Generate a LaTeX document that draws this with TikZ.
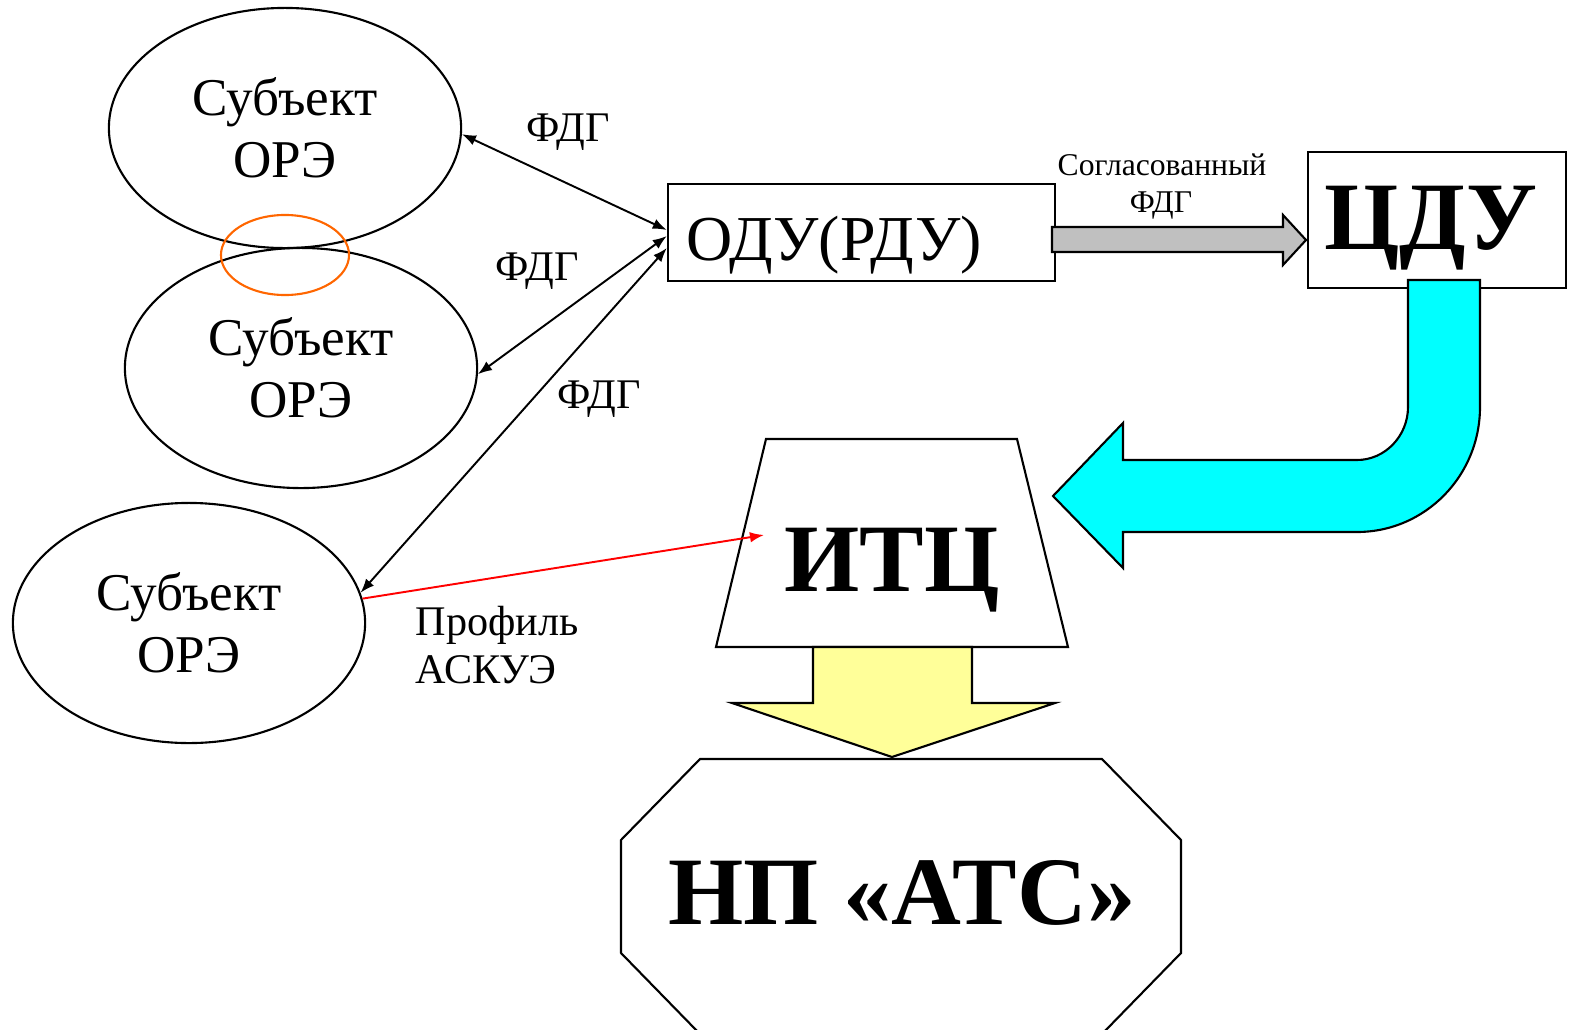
\documentclass[tikz,border=0pt]{standalone}
\usepackage{fontspec}
\setmainfont{Liberation Serif}
\usetikzlibrary{shapes.geometric,arrows.meta,calc}
\definecolor{grayfill}{HTML}{C0C0C0}
\definecolor{cyanfill}{HTML}{00FFFF}
\definecolor{yellowfill}{HTML}{FFFF99}
\definecolor{orangeline}{HTML}{FF6600}
\begin{document}
\begin{tikzpicture}[x=0.01cm,y=-0.01cm,
  ell/.style={draw,ellipse,line width=0.6pt,minimum width=3.52cm,minimum height=2.4cm,inner sep=0pt,align=center,font=\fontsize{15.1}{17.6}\selectfont},
  lbl/.style={font=\fontsize{12}{13.6}\selectfont,inner sep=0pt,anchor=base},
  con/.style={line width=0.55pt,>={Latex[length=4pt,width=3pt]}},
  boxx/.style={draw,line width=0.6pt,inner sep=0pt},
  big/.style={font=\fontsize{27.5}{31}\selectfont\bfseries,inner sep=0pt,anchor=base},
  figline/.style={draw,line width=0.6pt,line join=miter}
]
\useasboundingbox (0,0) rectangle (1569,1030);

% ellipses
\node[ell] (e1) at (285,128) {Субъект\\ОРЭ};
\node[ell] (e2) at (301,368) {Субъект\\ОРЭ};
\node[ell] (e3) at (189,623) {Субъект\\ОРЭ};
\node[draw=orangeline,ellipse,line width=0.6pt,minimum width=1.28cm,minimum height=0.8cm,inner sep=0pt] (ov) at (285,255) {};

% boxes
\node[boxx,minimum width=3.87cm,minimum height=0.97cm] (odu) at (861.5,232.5) {};
\node[font=\fontsize{18.2}{20}\selectfont,inner sep=0pt,anchor=base] (odut) at (834,260) {ОДУ(РДУ)};
\node[boxx,minimum width=2.58cm,minimum height=1.36cm] (cdu) at (1437,220) {};
\node[big] (cdut) at (1431,249) {ЦДУ};

% gray arrow
\draw[figline,fill=grayfill] (1052,227) -- (1283,227) -- (1283,215) -- (1306,240) -- (1283,265) -- (1283,252) -- (1052,252) -- cycle;
\node[font=\fontsize{9}{11}\selectfont,inner sep=0pt,anchor=base] (sg1) at (1162,175) {Согласованный};
\node[font=\fontsize{9}{11}\selectfont,inner sep=0pt,anchor=base] (sg2) at (1161,212) {ФДГ};

% cyan bent arrow
\draw[figline,fill=cyanfill] (1408,280) -- (1480,280) -- (1480,407)
  .. controls (1480,476) and (1425,532) .. (1357,532)
  -- (1123,532) -- (1123,568) -- (1053,496) -- (1123,423) -- (1123,460) -- (1357,460)
  .. controls (1385,460) and (1408,436) .. (1408,407) -- cycle;

% trapezoid ITC
\draw[figline] (766,439) -- (1017,439) -- (1068,647) -- (716,647) -- cycle;
\node[big] (itc) at (892,591) {ИТЦ};
\coordinate (itcin) at (764,535);

% yellow arrow
\draw[figline,fill=yellowfill] (813,647) -- (972,647) -- (972,703) -- (1055,703) -- (892,757) -- (732,703) -- (813,703) -- cycle;

% octagon
\draw[figline] (700,759) -- (1102,759) -- (1181,840) -- (1181,953) -- (1102,1034) -- (700,1034) -- (621,953) -- (621,840) -- cycle;
\node[big] (ats) at (902,924) {НП «АТС»};

% connectors
\draw[con,<->] (e1.-2) -- ($(odu.west)+(0,-2.5)$);
\draw[con,<->] (e2.-2) -- ($(odu.west)+(0,3.5)$);
\draw[con,<->] (e3.10) -- ($(odu.west)+(0,15.5)$);
\draw[con,red,->] (e3.8) -- (itcin);

% labels
\node[lbl] (f1) at (568,141) {ФДГ};
\node[lbl] (f2) at (537,280) {ФДГ};
\node[lbl] (f3) at (599,408) {ФДГ};
\node[lbl,anchor=base west] (p1) at (415,635) {Профиль};
\node[lbl,anchor=base west] (p2) at (415,683) {АСКУЭ};
\end{tikzpicture}
\end{document}
